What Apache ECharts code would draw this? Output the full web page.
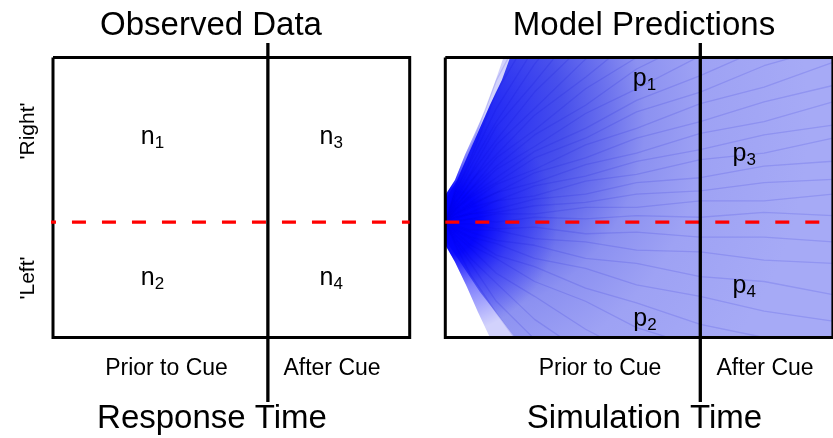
<!DOCTYPE html>
<html><head><meta charset="utf-8">
<script src="https://cdn.jsdelivr.net/npm/echarts@6/dist/echarts.min.js"></script>
<style>html,body{margin:0;padding:0;background:#fff}#c{width:833px;height:438px}</style>
</head><body><div id="c"></div>
<script>
// ---------- data ----------
const panelTitles = ['Observed Data', 'Model Predictions'];
const axisTitles = ['Response Time', 'Simulation Time'];
const phaseLabels = ['Prior to Cue', 'After Cue'];
const responseLabels = ["'Right'", "'Left'"];
const cueTime = 100;
const observedMaxTime = 166;
const simMaxTime = 152;
const evidenceMin = -70, evidenceMax = 100;
const boundaryLevel = 0;
const cueLineTop = 108.8, cueLineBottom = -109.2;
const observedBoundaryStart = -19.1;

const observedLetters = ['n', 'n', 'n', 'n'];
const observedSubs = ['1', '2', '3', '4'];
const observedCellTime = [46.3, 46.3, 129.5, 129.5];
const observedCellEvidence = [51.6, -33.8, 51.6, -33.8];

const predictedLetters = ['p', 'p', 'p', 'p'];
const predictedSubs = ['1', '2', '3', '4'];
const predictedCellTime = [78.1, 78.3, 117.2, 117.2];
const predictedCellEvidence = [87, -58.7, 41.4, -38.5];

// envelope of simulated accumulator paths (outer faint edge and dense core)
const fanOuterTime = [0, 3.8, 7.7, 11.6, 15.6, 19.5, 22.8, 152, 152, 17.5, 12.8, 8.5, 3.8, 0];
const fanOuterEvidence = [16.5, 25.6, 40.8, 54.2, 68.1, 85.1, 100, 100, -70, -70, -54.5, -39.3, -24.2, -13.8];
const fanInnerTime = [0, 4.6, 8.9, 13.2, 17.5, 22.2, 25.4, 152, 152, 27.3, 21.5, 13.6, 5.8, 0];
const fanInnerEvidence = [13.5, 25.6, 40.8, 56, 71.2, 86.3, 100, 100, -70, -70, -58.2, -42.4, -24.2, -10.8];

// a sample of individual simulated paths (evidence at the sample times)
const pathTimes = [0, 4, 10, 20, 35, 55, 75, 100, 125, 152];
const pathEvidence = [
  [0, 21, 45, 86, 130],
  [0, 19, 39, 79, 118],
  [0, 18, 37, 69, 106, 150],
  [0, 16, 34, 61, 96, 134],
  [0, 15, 30, 58, 85, 123],
  [0, 13, 29, 50, 79, 109, 141],
  [0, 12, 24, 47, 69, 99, 124],
  [0, 11, 25, 41, 65, 88, 113, 139],
  [0, 10, 20, 39, 56, 81, 100, 127],
  [0, 9, 20, 34, 53, 71, 93, 112, 136],
  [0, 8, 17, 32, 46, 66, 81, 101, 117, 139],
  [0, 8, 16, 27, 43, 57, 74, 89, 106, 121],
  [0, 7, 15, 24, 39, 51, 67, 79, 95, 107],
  [0, 6, 12, 23, 32, 47, 57, 72, 82, 97],
  [0, 5, 11, 18, 30, 39, 51, 61, 73, 83],
  [0, 5, 10, 18, 24, 35, 42, 54, 61, 73],
  [0, 4, 9, 13, 22, 28, 37, 44, 53, 59],
  [0, 3, 6, 13, 16, 25, 29, 38, 42, 51],
  [0, 3, 5, 8, 14, 17, 24, 27, 34, 37],
  [0, 2, 5, 6, 10, 12, 17, 19, 24, 26],
  [0, 1, 2, 5, 5, 9, 9, 13, 13, 17],
  [0, 0, 2, 0, 3, 2, 4, 3, 6, 4],
  [0, -1, -1, -4, -3, -7, -6, -9, -9, -12],
  [0, -2, -5, -5, -10, -12, -17, -18, -23, -25],
  [0, -3, -6, -11, -14, -22, -25, -33, -36, -44],
  [0, -4, -9, -13, -22, -28, -38, -45, -54, -60],
  [0, -5, -10, -20, -27, -40, -49, -62, -70],
  [0, -6, -14, -22, -36, -48, -64, -76],
  [0, -8, -16, -31, -45, -65, -81],
  [0, -10, -22, -37, -59, -80],
  [0, -12, -25, -48, -71],
  [0, -14, -32, -55, -87]
];

// ---------- chart ----------
const FONT = '"Liberation Sans", Arial, sans-serif';
const chart = echarts.init(document.getElementById('c'), null, {renderer: 'canvas'});

function polySeries(times, evs, fill, z) {
  return {
    type: 'custom', xAxisIndex: 1, yAxisIndex: 1, z: z, silent: true,
    data: [[0, 0]],
    renderItem: function (params, api) {
      const pts = times.map((t, i) => api.coord([t, evs[i]]));
      return {type: 'polygon', shape: {points: pts}, style: {fill: fill}};
    }
  };
}

const denseGradient = {
  type: 'radial', x: 0, y: 0.223, r: 1.3, global: false,
  colorStops: [
    {offset: 0, color: 'rgb(0,0,255)'},
    {offset: 0.11, color: 'rgb(32,38,246)'},
    {offset: 0.327, color: 'rgb(72,80,236)'},
    {offset: 0.456, color: 'rgb(110,116,238)'},
    {offset: 0.55, color: 'rgb(140,145,241)'},
    {offset: 0.714, color: 'rgb(158,162,244)'},
    {offset: 1, color: 'rgb(166,170,246)'}
  ]
};
const originGradient = {
  type: 'radial', x: 0, y: 0.588, r: 0.4, global: false,
  colorStops: [
    {offset: 0, color: 'rgba(0,0,255,1)'},
    {offset: 0.3, color: 'rgba(0,0,255,0.92)'},
    {offset: 0.6, color: 'rgba(0,0,255,0.4)'},
    {offset: 1, color: 'rgba(0,0,255,0)'}
  ]
};

function boxData(maxT) {
  return [[0, evidenceMax], [maxT, evidenceMax], [maxT, evidenceMin], [0, evidenceMin], [0, evidenceMax]];
}
function lineSeries(idx, data, color, width, z, dash) {
  return {
    type: 'line', xAxisIndex: idx, yAxisIndex: idx, data: data, symbol: 'none', clip: false,
    silent: true, z: z, animation: false,
    lineStyle: {color: color, width: width, type: dash || 'solid', join: 'miter', cap: 'butt'}
  };
}
function pathSeries(evs) {
  return {
    type: 'line', xAxisIndex: 1, yAxisIndex: 1, symbol: 'none', clip: true, silent: true, z: 1.5,
    data: evs.map((e, i) => [pathTimes[i], e]),
    lineStyle: {color: 'rgba(10,10,210,0.13)', width: 1.3}
  };
}
function labelSeries(idx, times, evs, letters, subs) {
  return {
    type: 'scatter', xAxisIndex: idx, yAxisIndex: idx, symbolSize: 0, z: 10, silent: true,
    itemStyle: {opacity: 1},
    data: times.map((t, i) => [t, evs[i]]),
    label: {
      show: true, position: 'inside', color: '#000', textBorderWidth: 0, opacity: 1,
      formatter: p => '{m|' + letters[p.dataIndex] + '}{s|' + subs[p.dataIndex] + '}',
      rich: {
        m: {fontSize: 25, lineHeight: 30, fontFamily: FONT, color: '#000', textBorderWidth: 0},
        s: {fontSize: 17, verticalAlign: 'bottom', fontFamily: FONT, color: '#000', textBorderWidth: 0}
      }
    }
  };
}

function txt(text, x, y, size, rot) {
  return {
    type: 'text', x: x, y: y, rotation: rot || 0, z: 20,
    style: {text: text, fontSize: size, fontFamily: FONT, fill: '#000', align: 'center', verticalAlign: 'middle'}
  };
}

const option = {
  animation: false,
  backgroundColor: '#fff',
  grid: [
    {left: 53, top: 57.5, width: 356.7, height: 280},
    {left: 445.3, top: 57.5, width: 387.6, height: 280}
  ],
  xAxis: [
    {gridIndex: 0, type: 'value', min: 0, max: observedMaxTime, show: false},
    {gridIndex: 1, type: 'value', min: 0, max: simMaxTime, show: false}
  ],
  yAxis: [
    {gridIndex: 0, type: 'value', min: evidenceMin, max: evidenceMax, show: false},
    {gridIndex: 1, type: 'value', min: evidenceMin, max: evidenceMax, show: false}
  ],
  series: [
    polySeries(fanOuterTime, fanOuterEvidence, 'rgb(210,210,252)', 1),
    polySeries(fanInnerTime, fanInnerEvidence, denseGradient, 1.1),
    polySeries(fanOuterTime, fanOuterEvidence, originGradient, 1.2),
    ...pathEvidence.map(pathSeries),
    lineSeries(0, boxData(observedMaxTime), '#000', 3, 3),
    lineSeries(1, boxData(simMaxTime), '#000', 3, 3),
    lineSeries(0, [[observedBoundaryStart, boundaryLevel], [observedMaxTime, boundaryLevel]], '#f00', 3.3, 4, [14, 16]),
    lineSeries(1, [[0, boundaryLevel], [simMaxTime, boundaryLevel]], '#f00', 3.3, 4, [14, 16]),
    lineSeries(0, [[cueTime, cueLineTop], [cueTime, cueLineBottom]], '#000', 3.3, 5),
    lineSeries(1, [[cueTime, cueLineTop], [cueTime, cueLineBottom]], '#000', 3.3, 5),
    labelSeries(0, observedCellTime, observedCellEvidence, observedLetters, observedSubs),
    labelSeries(1, predictedCellTime, predictedCellEvidence, predictedLetters, predictedSubs)
  ],
  graphic: [
    txt(panelTitles[0], 211, 26, 33),
    txt(panelTitles[1], 644, 26, 33),
    txt(axisTitles[0], 212, 419, 33),
    txt(axisTitles[1], 644.5, 419, 33),
    txt(phaseLabels[0], 166.5, 369, 23),
    txt(phaseLabels[1], 332, 369, 23),
    txt(phaseLabels[0], 600, 369, 23),
    txt(phaseLabels[1], 765, 369, 23),
    txt(responseLabels[0], 28, 131, 21, Math.PI / 2),
    txt(responseLabels[1], 28, 278, 21, Math.PI / 2)
  ]
};
chart.setOption(option);
</script>
</body></html>
